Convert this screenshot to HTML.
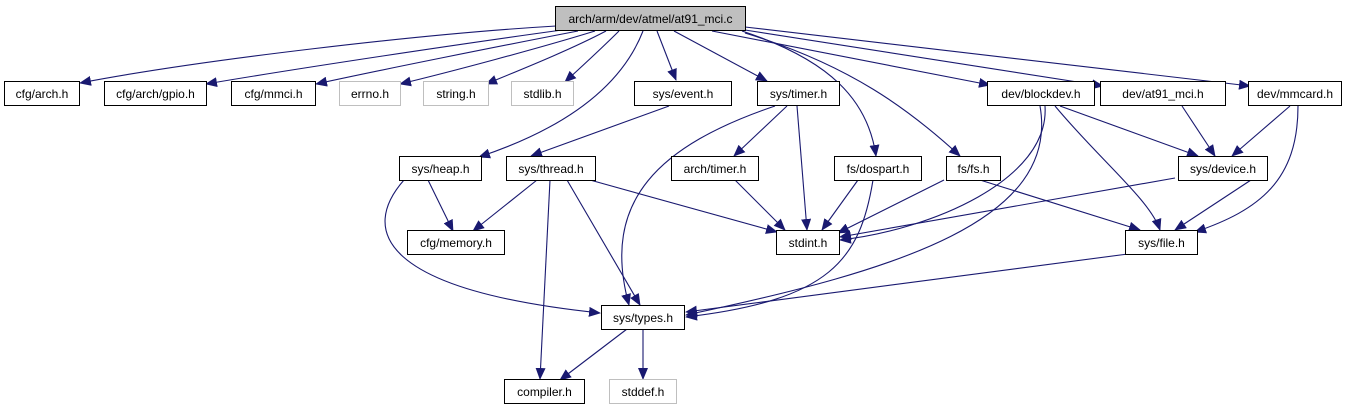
<!DOCTYPE html>
<html><head><meta charset="utf-8"><style>
html,body{margin:0;padding:0;background:#fff;width:1352px;height:411px;overflow:hidden}
svg{display:block}
text{font-family:"Liberation Sans",Arial,sans-serif;font-size:12px;fill:#000}
</style></head><body>
<svg width="1352" height="411" viewBox="0 0 1352 411">
<defs><marker id="a" markerWidth="12" markerHeight="10" refX="11" refY="5" orient="auto" markerUnits="userSpaceOnUse"><path d="M0,0 L12,5 L0,10 z" fill="#191970"/></marker></defs>
<g fill="none" stroke="#191970" stroke-width="1.1" marker-end="url(#a)">
<path d="M556,26 C420,34 200,60 80,83"/>
<path d="M562,30 C460,44 300,68 206,84"/>
<path d="M578,31 C500,46 380,70 316,84"/>
<path d="M595,31 C540,48 450,72 400,84"/>
<path d="M606,31 C570,50 520,70 486,84"/>
<path d="M619,31 C600,50 580,68 565,82"/>
<path d="M643,31 C620,90 560,130 479,157"/>
<path d="M657,31 L676,80"/>
<path d="M674,31 L767,81"/>
<path d="M742,31 C830,60 868,100 876,156"/>
<path d="M745,33 C850,65 910,110 960,156"/>
<path d="M712,31 L990,85"/>
<path d="M745,30 L1103,86"/>
<path d="M745,27 L1250,86"/>
<path d="M669,106 L531,156"/>
<path d="M775,106 C660,145 600,200 629,305"/>
<path d="M787,106 L734,156"/>
<path d="M797,106 L807,230"/>
<path d="M1045,106 C1050,180 930,230 840,240"/>
<path d="M1040,106 C1060,220 900,270 686,315"/>
<path d="M1060,106 L1198,156"/>
<path d="M1055,106 C1100,160 1150,200 1160,230"/>
<path d="M1182,106 L1215,156"/>
<path d="M1290,106 L1232,156"/>
<path d="M1298,106 C1298,180 1260,210 1195,232"/>
<path d="M428,180 L453,231"/>
<path d="M404,180 C360,230 380,290 600,313"/>
<path d="M537,180 L473,231"/>
<path d="M567,180 L640,305"/>
<path d="M550,180 L540,379"/>
<path d="M590,180 L777,232"/>
<path d="M735,180 L785,230"/>
<path d="M858,180 L822,230"/>
<path d="M873,180 C860,260 830,300 686,317"/>
<path d="M944,180 L838,233"/>
<path d="M980,180 L1140,230"/>
<path d="M1175,178 L840,237"/>
<path d="M1251,180 L1175,230"/>
<path d="M1128,254 L686,312"/>
<path d="M627,329 L560,380"/>
<path d="M643,329 L643,379"/>
</g>
<g stroke-width="1">
<rect x="555.5" y="6.5" width="190" height="24" fill="#bfbfbf" stroke="#000"/>
<g fill="#fff" stroke="#000">
<rect x="4.5" y="81.5" width="75" height="24"/>
<rect x="104.5" y="81.5" width="102" height="24"/>
<rect x="231.5" y="81.5" width="84" height="24"/>
<rect x="634.5" y="81.5" width="97" height="24"/>
<rect x="757.5" y="81.5" width="82" height="24"/>
<rect x="987.5" y="81.5" width="107" height="24"/>
<rect x="1100.5" y="81.5" width="125" height="24"/>
<rect x="1248.5" y="81.5" width="93" height="24"/>
<rect x="399.5" y="156.5" width="82" height="24"/>
<rect x="506.5" y="156.5" width="89" height="24"/>
<rect x="671.5" y="156.5" width="87" height="24"/>
<rect x="834.5" y="156.5" width="87" height="24"/>
<rect x="946.5" y="156.5" width="54" height="24"/>
<rect x="1178.5" y="156.5" width="89" height="24"/>
<rect x="407.5" y="230.5" width="97" height="24"/>
<rect x="776.5" y="230.5" width="63" height="24"/>
<rect x="1125.5" y="230.5" width="72" height="24"/>
<rect x="601.5" y="305.5" width="83" height="24"/>
<rect x="504.5" y="379.5" width="80" height="24"/>
</g>
<g fill="#fff" stroke="#bfbfbf">
<rect x="339.5" y="81.5" width="61" height="24"/>
<rect x="423.5" y="81.5" width="65" height="24"/>
<rect x="511.5" y="81.5" width="62" height="24"/>
<rect x="609.5" y="379.5" width="67" height="24"/>
</g>
</g>
<g text-anchor="middle">
<text x="650.5" y="23">arch/arm/dev/atmel/at91_mci.c</text>
<text x="42" y="98">cfg/arch.h</text>
<text x="155.5" y="98">cfg/arch/gpio.h</text>
<text x="273.5" y="98">cfg/mmci.h</text>
<text x="370" y="98">errno.h</text>
<text x="456" y="98">string.h</text>
<text x="542.5" y="98">stdlib.h</text>
<text x="683" y="98">sys/event.h</text>
<text x="798.5" y="98">sys/timer.h</text>
<text x="1041" y="98">dev/blockdev.h</text>
<text x="1163" y="98">dev/at91_mci.h</text>
<text x="1295" y="98">dev/mmcard.h</text>
<text x="440.5" y="173">sys/heap.h</text>
<text x="551" y="173">sys/thread.h</text>
<text x="715" y="173">arch/timer.h</text>
<text x="878" y="173">fs/dospart.h</text>
<text x="973.5" y="173">fs/fs.h</text>
<text x="1223" y="173">sys/device.h</text>
<text x="456" y="247">cfg/memory.h</text>
<text x="808" y="247">stdint.h</text>
<text x="1161.5" y="247">sys/file.h</text>
<text x="643" y="322">sys/types.h</text>
<text x="544.5" y="396">compiler.h</text>
<text x="643" y="396">stddef.h</text>
</g>
</svg>
</body></html>
